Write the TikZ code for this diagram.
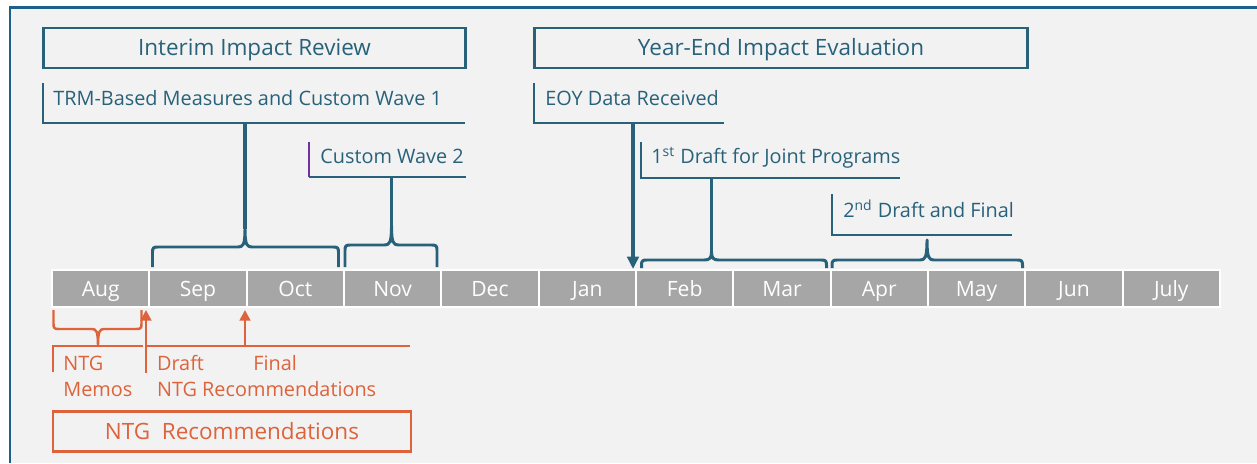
\documentclass[tikz,border=0pt]{standalone}
\usepackage{fontspec}
\setmainfont{Open Sans}
\usetikzlibrary{arrows.meta}
\definecolor{evalblue}{RGB}{40,98,122}
\definecolor{ntgorange}{RGB}{222,98,58}
\definecolor{panelgray}{RGB}{242,242,242}
\definecolor{panelblue}{RGB}{30,96,140}
\definecolor{monthgray}{RGB}{166,166,166}
\definecolor{wavepurple}{RGB}{112,48,160}
\begin{document}
\begin{tikzpicture}[x=0.02cm, y=-0.02cm,
    month node/.style={rectangle, fill=monthgray, draw=white, line width=1.2pt, minimum width=1.9466cm, minimum height=0.74cm, inner sep=0pt, text height=8.6pt, text depth=0pt, text=white, font=\fontsize{12}{14}\selectfont},
    title node/.style={rectangle, draw=evalblue, line width=1.7pt, minimum height=0.8cm, inner sep=0pt, text height=9pt, text depth=0pt, text=evalblue, font=\fontsize{12.8}{15}\selectfont},
    label node/.style={anchor=base west, inner sep=0pt, text=evalblue, font=\fontsize{11.3}{13}\selectfont},
    ntg node/.style={anchor=base west, inner sep=0pt, text=ntgorange, font=\fontsize{11.3}{13}\selectfont},
    ntg box/.style={rectangle, draw=ntgorange, line width=1.5pt, minimum height=0.8cm, inner sep=0pt, text height=9pt, text depth=0pt, text=ntgorange, font=\fontsize{12.8}{15}\selectfont},
    bracket/.style={draw=evalblue, line width=0.85pt},
    stem/.style={draw=evalblue, line width=2pt},
    brace line/.style={draw=evalblue, line width=1.7pt, line join=round},
    ntg line/.style={draw=ntgorange, line width=1.1pt},
    ntg brace/.style={draw=ntgorange, line width=1.4pt, line join=round},
    ntg arrow/.style={draw=ntgorange, line width=1.7pt, -{Triangle[length=6pt,width=6pt]}}]

    % page and panel
    \useasboundingbox (0,0) rectangle (1257,463);
    \fill[white] (0,0) rectangle (1257,463);
    \fill[panelgray] (10,7.5) rectangle (1257,463);
    \draw[panelblue, line width=1.2pt] (10,463) |- (1257,7.5);

    % phases
    \node[title node, minimum width=8.46cm] at (254.5,48) (interim) {Interim Impact Review};
    \node[title node, minimum width=9.88cm] at (781,48) (yearend) {Year-End Impact Evaluation};

    % milestone labels
    \node[label node] at (53,105) (trm) {TRM-Based Measures and Custom Wave 1};
    \node[label node] at (320,163) (wave2) {Custom Wave 2};
    \node[label node] at (545,105) (eoy) {EOY Data Received};
    \node[label node] at (651,163) (draft1) {1\textsuperscript{st} Draft for Joint Programs};
    \node[label node] at (843,217) (draft2) {2\textsuperscript{nd} Draft and Final};

    \coordinate (trm top) at (43,83);
    \coordinate (trm end) at (465,123);
    \coordinate (wave2 top) at (309,142);
    \coordinate (wave2 corner) at (309,177);
    \coordinate (wave2 end) at (466,177);
    \coordinate (eoy top) at (534,83);
    \coordinate (eoy end) at (724,123);
    \coordinate (draft1 top) at (641,142);
    \coordinate (draft1 end) at (900,178);
    \coordinate (draft2 top) at (832,194);
    \coordinate (draft2 end) at (1012,235);

    \path[bracket] (trm top) |- (trm end);
    \path[bracket, draw=wavepurple] (wave2 top) -- (wave2 corner);
    \path[bracket] (wave2 corner) -- (wave2 end);
    \path[bracket] (eoy top) |- (eoy end);
    \path[bracket] (draft1 top) |- (draft1 end);
    \path[bracket] (draft2 top) |- (draft2 end);

    % months
    \foreach \m [count=\i from 0] in {Aug,Sep,Oct,Nov,Dec,Jan,Feb,Mar,Apr,May,Jun,July}
        \node[month node] at ({100.67+97.33*\i},288.5) (m\i) {\m};

    % braces over the months
    \foreach \a/\c/\b/\h/\t/\k [count=\n] in {152.5/245/338.5/247/267/229, 345/391.5/437/245/267/226, 641.5/711.5/826.5/260/268/252, 832/927/1022.5/260/268/240}
    {
        \coordinate (cusp\n) at (\c,\k);
        \path[brace line] (\a,\t) -- (\a,\h+5) .. controls (\a,\h+1) and (\a+1,\h) .. (\a+5,\h) -- (\c-7,\h) .. controls (\c-2,\h) and (\c,\h-2) .. (cusp\n) .. controls (\c,\h-2) and (\c+2,\h) .. (\c+7,\h) -- (\b-5,\h) .. controls (\b-1,\h) and (\b,\h+1) .. (\b,\h+5) -- (\b,\t);
    }

    \coordinate (trm stem) at (245,123);
    \coordinate (wave2 stem) at (391.5,177);
    \coordinate (draft1 stem) at (711.5,178);
    \coordinate (eoy stem) at (633,123);
    \coordinate (feb start) at (633,269);
    \path[stem] (trm stem) -- (cusp1);
    \path[stem] (wave2 stem) -- (cusp2);
    \path[stem] (draft1 stem) -- (cusp3);
    \path[stem, -{Triangle[length=7pt,width=6.5pt]}] (eoy stem) -- (feb start);

    % NTG part
    \coordinate (memos cusp) at (98,345);
    \path[ntg brace] (53.5,310) -- (53.5,324) .. controls (53.5,328) and (54.5,329) .. (58.5,329) -- (92,329) .. controls (96,329) and (98,331) .. (memos cusp) .. controls (98,331) and (100,329) .. (104,329) -- (136.5,329) .. controls (140.5,329) and (141.5,328) .. (141.5,324) -- (141.5,310);

    \coordinate (memos foot) at (53,372);
    \coordinate (memos end) at (142.5,345.7);
    \coordinate (draft foot) at (146,373);
    \coordinate (aug sep) at (146,310);
    \coordinate (draft corner) at (146,345.7);
    \coordinate (ntg end) at (410,345.7);
    \coordinate (final foot) at (245,345.7);
    \coordinate (sep oct) at (245,310);

    \path[ntg line] (memos foot) |- (memos end);
    \path[ntg line] (draft corner) -- (ntg end);
    \path[ntg arrow] (draft foot) -- (aug sep);
    \path[ntg arrow] (final foot) -- (sep oct);

    \node[ntg node] at (63,370.7) (ntg) {NTG};
    \node[ntg node] at (63,396.7) (memos) {Memos};
    \node[ntg node] at (156.7,370.7) (draft) {Draft};
    \node[ntg node] at (253,370.7) (final) {Final};
    \node[ntg node] at (156.7,396.7) (recs) {NTG Recommendations};

    \node[ntg box, minimum width=7.16cm] at (232,431.7) (ntgbox) {NTG\ \ Recommendations};

\end{tikzpicture}
\end{document}
